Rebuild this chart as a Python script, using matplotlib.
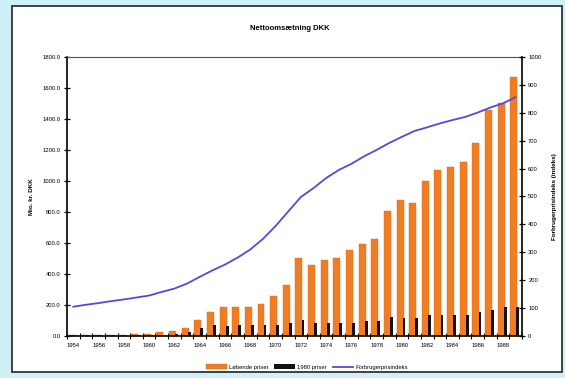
import numpy as np
import matplotlib
matplotlib.use('Agg')
import matplotlib.pyplot as plt
from matplotlib.patches import Rectangle

plt.rcParams['font.family'] = ['Liberation Sans', 'DejaVu Sans']

years = list(range(1954, 1990))
current_prices = [5, 6, 7, 8, 9, 10, 12, 26, 30, 52, 102, 156, 189, 189, 189, 206, 258, 330,
                  503, 455, 492, 503, 557, 594, 627, 807, 876, 861, 1002, 1071, 1089, 1121,
                  1247, 1457, 1501, 1670]
fixed_prices = [4, 4, 5, 5, 5, 6, 6, 8, 12, 25, 52, 70, 62, 70, 70, 70, 70, 85,
                102, 81, 81, 81, 81, 98, 98, 120, 113, 113, 135, 135, 135, 135,
                152, 167, 185, 185]
price_index = [105, 112, 118, 125, 131, 138, 145, 158, 170, 188, 212, 235, 256, 281,
               310, 348, 394, 446, 498, 530, 566, 595, 617, 644, 667, 692, 714, 735,
               748, 762, 774, 785, 801, 819, 834, 856]

title = 'Nettoomsætning DKK'
left_label = 'Mio. kr. DKK'
right_label = 'Forbrugerprisindeks (indeks)'
legend_labels = ['Løbende priser', '1980 priser', 'Forbrugerprisindeks']

W, H = 565, 378
fig = plt.figure(figsize=(W / 100, H / 100), dpi=100)
fig.patch.set_facecolor('#cdf1f7')
fig.patches.append(Rectangle((12 / W, 6 / H), 550 / W, 366 / H, transform=fig.transFigure,
                             facecolor='white', edgecolor='#222222', lw=1.2, zorder=-5))

ax = fig.add_axes([67 / W, 42 / H, 455 / W, 279 / H])
ax.set_facecolor('none')
x = np.arange(len(years))
ax.bar(x - 0.15, current_prices, width=0.55, color='#f07d24', edgecolor='#d86a1a', lw=0.3,
       label=legend_labels[0], zorder=2)
ax.bar(x + 0.17, fixed_prices, width=0.22, color='#111111', label=legend_labels[1], zorder=3)
ax.set_xlim(-0.5, len(years) - 0.5)
ax.set_ylim(0, 1800)
ax.set_yticks(np.arange(0, 1801, 200))
ax.set_yticklabels([f'{v:.1f}' for v in np.arange(0, 1801, 200)])
ax.set_xticks(x[::2])
ax.set_xticklabels([str(y) for y in years[::2]])
ax.set_xticks(np.arange(-0.5, len(years), 1), minor=True)
ax.tick_params(axis='x', which='major', length=0, labelsize=4.2, pad=5)
ax.tick_params(axis='x', which='minor', length=4, width=0.8, direction='inout')
ax.tick_params(axis='y', length=5, width=0.9, direction='inout', labelsize=4.2, pad=2)
ax.set_ylabel(left_label, fontsize=4.5, fontweight='bold', labelpad=6)
for s in ['left', 'bottom']:
    ax.spines[s].set_linewidth(1.2)
ax.spines['top'].set_color('#555555')
ax.spines['top'].set_linewidth(0.8)
ax.spines['right'].set_visible(False)

ax2 = ax.twinx()
ax2.plot(x, price_index, color='#5548e0', lw=1.3, label=legend_labels[2], zorder=4)
ax2.set_ylim(0, 1000)
ax2.set_yticks(np.arange(0, 1001, 100))
ax2.tick_params(axis='y', length=5, width=0.9, direction='inout', labelsize=4.2, pad=2)
ax2.set_ylabel(right_label, fontsize=4.5, fontweight='bold', labelpad=8)
ax2.spines['right'].set_linewidth(1.2)
for s in ['left', 'top', 'bottom']:
    ax2.spines[s].set_visible(False)

fig.text(290 / W, 1 - 28 / H, title, ha='center', va='center', fontsize=5.5, fontweight='bold')

handles = ax.get_legend_handles_labels()[0] + ax2.get_legend_handles_labels()[0]
fig.legend(handles, legend_labels, loc='center', bbox_to_anchor=(307 / W, 1 - 367 / H),
           ncol=3, fontsize=4.2, frameon=False, handlelength=3.5, handleheight=0.8,
           columnspacing=1.0, handletextpad=0.4)

fig.savefig('out.png', dpi=100, facecolor=fig.get_facecolor())
